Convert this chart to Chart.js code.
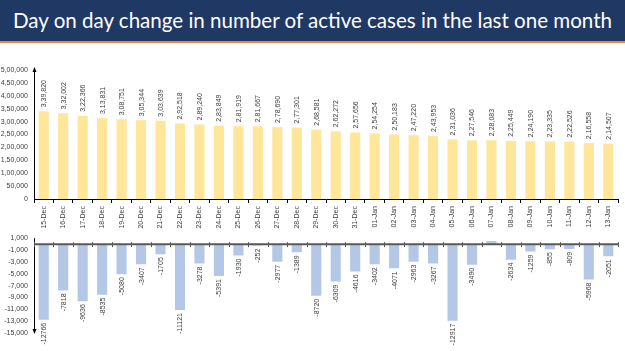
<!DOCTYPE html>
<html><head><meta charset="utf-8">
<script src="https://cdn.jsdelivr.net/npm/chart.js@4.4.1/dist/chart.umd.min.js"></script>
<style>
html,body{margin:0;padding:0;background:#fff;width:625px;height:351px;overflow:hidden;position:relative;font-family:'Liberation Sans',sans-serif}
#title{position:absolute;left:0;top:0;width:625px;height:41px;background:#1f3864;border-bottom:2px solid #e2894f;}
#tt{position:absolute;left:13px;top:8px;color:#fff;font-family:Lato,'Open Sans',sans-serif;font-size:21px;line-height:24px;white-space:nowrap;transform-origin:0 0}
#c1{position:absolute;left:0;top:45px}
#c2{position:absolute;left:0;top:228px}
</style></head>
<body>
<div id="title"><span id="tt">Day on day change in number of active cases in the last one month</span></div>
<canvas id="c1" width="625" height="190"></canvas>
<canvas id="c2" width="625" height="123"></canvas>
<script>
const categories = ['15-Dec','16-Dec','17-Dec','18-Dec','19-Dec','20-Dec','21-Dec','22-Dec','23-Dec','24-Dec','25-Dec','26-Dec','27-Dec','28-Dec','29-Dec','30-Dec','31-Dec','01-Jan','02-Jan','03-Jan','04-Jan','05-Jan','06-Jan','07-Jan','08-Jan','09-Jan','10-Jan','11-Jan','12-Jan','13-Jan'];
const activeCases = [339820,332002,322366,313831,308751,305344,303639,292518,289240,283849,281919,281667,278690,277301,268581,262272,257656,254254,250183,247220,243953,231036,227546,228083,225449,224190,223335,222526,216558,214507];
const dailyChange = [-12766,-7818,-9636,-8535,-5080,-3407,-1705,-11121,-3278,-5391,-1930,-252,-2977,-1389,-8720,-6309,-4616,-3402,-4071,-2963,-3267,-12917,-3490,537,-2634,-1259,-855,-809,-5968,-2051];
const activeTicks = [0,50000,100000,150000,200000,250000,300000,350000,400000,450000,500000];
const changeTicks = [1000,-1000,-3000,-5000,-7000,-9000,-11000,-13000,-15000];

// fit title width
(function(){const t=document.getElementById('tt');const w=t.getBoundingClientRect().width;t.style.transform='scaleX('+(599/w)+')';})();

function inr(n){
  const s=Math.abs(n).toString();
  let last3=s.slice(-3), rest=s.slice(0,-3);
  if(rest) last3=','+last3;
  rest=rest.replace(/\B(?=(\d{2})+(?!\d))/g, ',');
  return (n<0?'-':'')+rest+last3;
}
const FONT = "'Liberation Sans', Arial, sans-serif";
const TXT = '#404040';

const barLabels = {
  id:'barLabels',
  afterDatasetsDraw(chart, args, opts){
    const ctx=chart.ctx, meta=chart.getDatasetMeta(0), data=chart.data.datasets[0].data;
    ctx.save();
    ctx.font = '7px ' + FONT; ctx.fillStyle = TXT; ctx.textBaseline='middle';
    meta.data.forEach((bar,i)=>{
      const v=data[i];
      if(opts.mode==='top'){
        ctx.save(); ctx.translate(bar.x+0.5, bar.y-4); ctx.rotate(-Math.PI/2);
        ctx.textAlign='left'; ctx.fillText(inr(v),0,0); ctx.restore();
      } else if(v<0){
        ctx.save(); ctx.translate(bar.x+0.5, bar.y+3); ctx.rotate(-Math.PI/2);
        ctx.textAlign='right'; ctx.fillText(String(v),0,0); ctx.restore();
      }
    });
    ctx.restore();
  }
};

const axisDeco = {
  id:'axisDeco',
  afterDraw(chart, args, opts){
    const ctx=chart.ctx, y=chart.scales.y, x=chart.scales.x, ax=y.right;
    ctx.save();
    ctx.fillStyle='#000'; ctx.strokeStyle='#000'; ctx.lineWidth=1;
    if(opts.mode==='top'){
      const tip=y.top-3;
      ctx.beginPath(); ctx.moveTo(ax+0.5,y.top); ctx.lineTo(ax+0.5,tip+3); ctx.stroke();
      ctx.beginPath(); ctx.moveTo(ax+0.5,tip); ctx.lineTo(ax-1.5,tip+5); ctx.lineTo(ax+2.5,tip+5); ctx.closePath(); ctx.fill();
    } else {
      const y0=y.getPixelForValue(0);
      const tip=y.bottom+1;
      ctx.beginPath(); ctx.moveTo(ax+0.5,y.top); ctx.lineTo(ax+0.5,tip-3); ctx.stroke();
      ctx.beginPath(); ctx.moveTo(ax+0.5,tip); ctx.lineTo(ax-1.5,tip-5); ctx.lineTo(ax+2.5,tip-5); ctx.closePath(); ctx.fill();
      // zero line with tick marks
      ctx.strokeStyle='#595959'; ctx.lineWidth=2;
      ctx.beginPath(); ctx.moveTo(x.left,y0); ctx.lineTo(x.right,y0); ctx.stroke();
      ctx.lineWidth=1;
      const n=chart.data.labels.length, w=(x.right-x.left)/n;
      for(let i=0;i<=n;i++){
        const px=Math.round(x.left+i*w)+0.5;
        ctx.beginPath(); ctx.moveTo(px,y0-2); ctx.lineTo(px,y0+3); ctx.stroke();
      }
    }
    ctx.restore();
  }
};

Chart.defaults.font.family = FONT;
Chart.defaults.color = TXT;

new Chart(document.getElementById('c1'), {
  type:'bar',
  data:{labels:categories, datasets:[{data:activeCases, backgroundColor:'#ffe699', barPercentage:0.52, categoryPercentage:1}]},
  options:{
    responsive:false, animation:false,
    layout:{padding:{top:25,right:7,left:0,bottom:0}},
    plugins:{legend:{display:false}, tooltip:{enabled:false}, barLabels:{mode:'top'}, axisDeco:{mode:'top'}},
    scales:{
      x:{
        grid:{display:true, drawOnChartArea:false, drawTicks:true, tickLength:4, color:'#000', offset:true},
        border:{display:true, color:'#000', width:1},
        ticks:{font:{size:7}, color:TXT, minRotation:90, maxRotation:90, autoSkip:false, padding:3},
        afterFit(s){ s.height=36; }
      },
      y:{
        min:0, max:500000,
        grid:{display:false, drawTicks:false},
        border:{display:true, color:'#000', width:1},
        ticks:{font:{size:7}, color:TXT, padding:6, callback:(v)=>inr(v)},
        afterBuildTicks(s){ s.ticks = activeTicks.map(v=>({value:v})); },
        afterFit(s){ s.width=34; }
      }
    }
  },
  plugins:[barLabels, axisDeco]
});

new Chart(document.getElementById('c2'), {
  type:'bar',
  data:{labels:categories, datasets:[{data:dailyChange, backgroundColor:'#b4c7e7', barPercentage:0.52, categoryPercentage:1}]},
  options:{
    responsive:false, animation:false,
    layout:{padding:{top:8,right:7,left:0,bottom:18}},
    plugins:{legend:{display:false}, tooltip:{enabled:false}, barLabels:{mode:'bottom'}, axisDeco:{mode:'bottom'}},
    scales:{
      x:{ display:false },
      y:{
        min:-15000, max:1000,
        grid:{display:false, drawTicks:false},
        border:{display:false},
        ticks:{font:{size:7}, color:TXT, padding:6, callback:(v)=>v.toLocaleString('en-US')},
        afterBuildTicks(s){ s.ticks = changeTicks.map(v=>({value:v})); },
        afterFit(s){ s.width=34; }
      }
    }
  },
  plugins:[barLabels, axisDeco]
});
</script>
</body></html>
